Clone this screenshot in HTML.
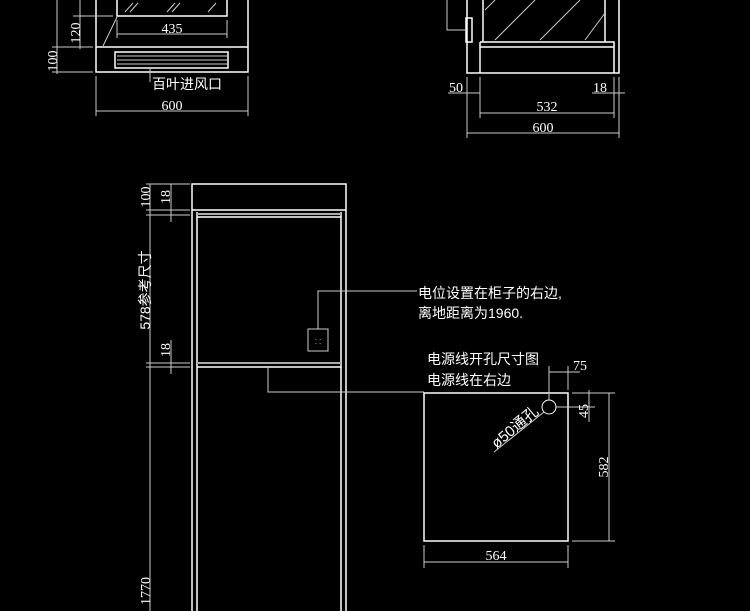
<!DOCTYPE html>
<html><head><meta charset="utf-8"><style>
html,body{margin:0;padding:0;background:#000;}
svg{display:block}
text{fill:#fff;font-family:"Liberation Serif","Noto Sans CJK SC",serif;}
.cn{font-family:"Liberation Sans","Noto Sans CJK SC",sans-serif;}
</style></head><body>
<svg width="750" height="611" viewBox="0 0 750 611" xmlns="http://www.w3.org/2000/svg">
<rect width="750" height="611" fill="#000"/>
<g stroke="#fff" stroke-width="1.5" fill="none">
<path d="M96 0 V72 H248 V0"/>
<line x1="96" y1="47" x2="248" y2="47"/>
<path d="M117 0 V16 H227 V0"/>
<rect x="115" y="52" width="113" height="16"/>
</g>
<g stroke="#ccc" stroke-width="1" fill="none">
<line x1="117" y1="56" x2="228" y2="56"/><line x1="117" y1="60" x2="228" y2="60"/><line x1="117" y1="64" x2="228" y2="64"/>
<line x1="103" y1="46" x2="117" y2="17"/>
<line x1="125" y1="12" x2="133" y2="3"/><line x1="130" y1="12" x2="138" y2="3"/><line x1="167" y1="12" x2="175" y2="3"/><line x1="172" y1="12" x2="180" y2="3"/><line x1="208" y1="12" x2="216" y2="3"/>
<line x1="117" y1="34" x2="227" y2="34"/><line x1="117" y1="20" x2="117" y2="38"/><line x1="227" y1="20" x2="227" y2="38"/>
<line x1="57" y1="0" x2="57" y2="74"/><line x1="80" y1="0" x2="80" y2="49"/>
<line x1="73" y1="16" x2="113" y2="16"/><line x1="52" y1="47" x2="93" y2="47"/><line x1="52" y1="72" x2="93" y2="72"/>
<line x1="150" y1="68" x2="150" y2="82"/>
<line x1="96" y1="76" x2="96" y2="116"/><line x1="248" y1="76" x2="248" y2="116"/><line x1="96" y1="111" x2="248" y2="111"/>
</g>
<text x="172" y="33" font-size="14" text-anchor="middle">435</text>
<text transform="translate(80,33) rotate(-90)" font-size="14" text-anchor="middle">120</text>
<text transform="translate(57,61) rotate(-90)" font-size="14" text-anchor="middle">100</text>
<text class="cn" x="152" y="89" font-size="14">百叶进风口</text>
<text x="172" y="110" font-size="14" text-anchor="middle">600</text>

<g stroke="#fff" stroke-width="1.5" fill="none">
<path d="M467 0 V73 H619 V0"/>
<path d="M480 42 V73"/><path d="M480 42 H614 V73"/><line x1="480" y1="47" x2="614" y2="47"/>
<path d="M483 0 V42"/><path d="M605 0 V42"/>
<rect x="466" y="18" width="6" height="24"/>
</g>
<g stroke="#ccc" stroke-width="1" fill="none">
<path d="M447 0 V30 H466"/>
<line x1="485" y1="10" x2="495" y2="0"/><line x1="495" y1="40" x2="535" y2="0"/><line x1="540" y1="40" x2="580" y2="0"/><line x1="585" y1="40" x2="605" y2="13"/>
<line x1="467" y1="77" x2="467" y2="138"/><line x1="619" y1="77" x2="619" y2="138"/><line x1="480" y1="77" x2="480" y2="118"/><line x1="614" y1="77" x2="614" y2="118"/>
<line x1="448" y1="93" x2="480" y2="93"/><line x1="592" y1="93" x2="625" y2="93"/>
<line x1="480" y1="113" x2="614" y2="113"/><line x1="467" y1="133" x2="619" y2="133"/>
</g>
<text x="456" y="92" font-size="14" text-anchor="middle">50</text>
<text x="600" y="92" font-size="14" text-anchor="middle">18</text>
<text x="547" y="111" font-size="14" text-anchor="middle">532</text>
<text x="543" y="132" font-size="14" text-anchor="middle">600</text>

<g stroke="#fff" stroke-width="1.5" fill="none">
<path d="M192 611 V184 H346 V611"/>
<line x1="192" y1="210" x2="346" y2="210"/>
<path d="M197 611 V212"/><path d="M341 611 V212"/>
<line x1="197" y1="217" x2="341" y2="217"/>
<line x1="197" y1="367" x2="341" y2="367"/>
</g>
<g stroke="#aaa" stroke-width="2" fill="none">
<line x1="197" y1="214" x2="341" y2="214"/><line x1="197" y1="363" x2="341" y2="363"/>
</g>
<g stroke="#ccc" stroke-width="1" fill="none">
<rect x="308" y="329" width="20" height="22"/>
<path d="M318 329 V291 H417"/>
<path d="M268 367 V392 H424"/>
<line x1="150" y1="184" x2="150" y2="611"/><line x1="171" y1="184" x2="171" y2="222"/><line x1="171" y1="340" x2="171" y2="374"/>
<line x1="146" y1="184" x2="190" y2="184"/><line x1="146" y1="210" x2="190" y2="210"/><line x1="146" y1="215" x2="190" y2="215"/>
<line x1="146" y1="363" x2="190" y2="363"/><line x1="146" y1="367" x2="190" y2="367"/>
</g>
<text x="318" y="344" font-size="7" text-anchor="middle" fill="#bbb">⸬</text>
<text transform="translate(150,197) rotate(-90)" font-size="14" text-anchor="middle">100</text>
<text transform="translate(170,197) rotate(-90)" font-size="14" text-anchor="middle">18</text>
<text class="cn" transform="translate(150,290) rotate(-90)" font-size="14" text-anchor="middle">578参考尺寸</text>
<text transform="translate(170,350) rotate(-90)" font-size="14" text-anchor="middle">18</text>
<text transform="translate(150,591) rotate(-90)" font-size="14" text-anchor="middle">1770</text>
<text class="cn" x="418" y="298" font-size="14">电位设置在柜子的右边,</text>
<text class="cn" x="418" y="318" font-size="14">离地距离为1960.</text>

<text class="cn" x="427" y="364" font-size="14">电源线开孔尺寸图</text>
<text class="cn" x="427" y="385" font-size="14">电源线在右边</text>
<rect x="424" y="393" width="144" height="148" stroke="#fff" stroke-width="1.5" fill="none"/>
<g stroke="#ccc" stroke-width="1" fill="none">
<circle cx="549" cy="407" r="7" stroke="#fff"/>
<line x1="544" y1="412" x2="494" y2="452"/>
<line x1="549" y1="366" x2="549" y2="400"/><line x1="568" y1="366" x2="568" y2="390"/>
<line x1="549" y1="372" x2="580" y2="372"/>
<line x1="572" y1="393" x2="615" y2="393"/><line x1="556" y1="407" x2="595" y2="407"/><line x1="572" y1="541" x2="615" y2="541"/>
<line x1="589" y1="390" x2="589" y2="422"/><line x1="609" y1="393" x2="609" y2="541"/>
<line x1="424" y1="545" x2="424" y2="568"/><line x1="568" y1="545" x2="568" y2="568"/><line x1="424" y1="562" x2="568" y2="562"/>
</g>
<text x="580" y="370" font-size="14" text-anchor="middle">75</text>
<text transform="translate(588,411) rotate(-90)" font-size="14" text-anchor="middle">45</text>
<text transform="translate(608,467) rotate(-90)" font-size="14" text-anchor="middle">582</text>
<text class="cn" transform="translate(518,431) rotate(-40)" font-size="15" text-anchor="middle">ø50通孔</text>
<text x="496" y="560" font-size="14" text-anchor="middle">564</text>
</svg>
</body></html>
